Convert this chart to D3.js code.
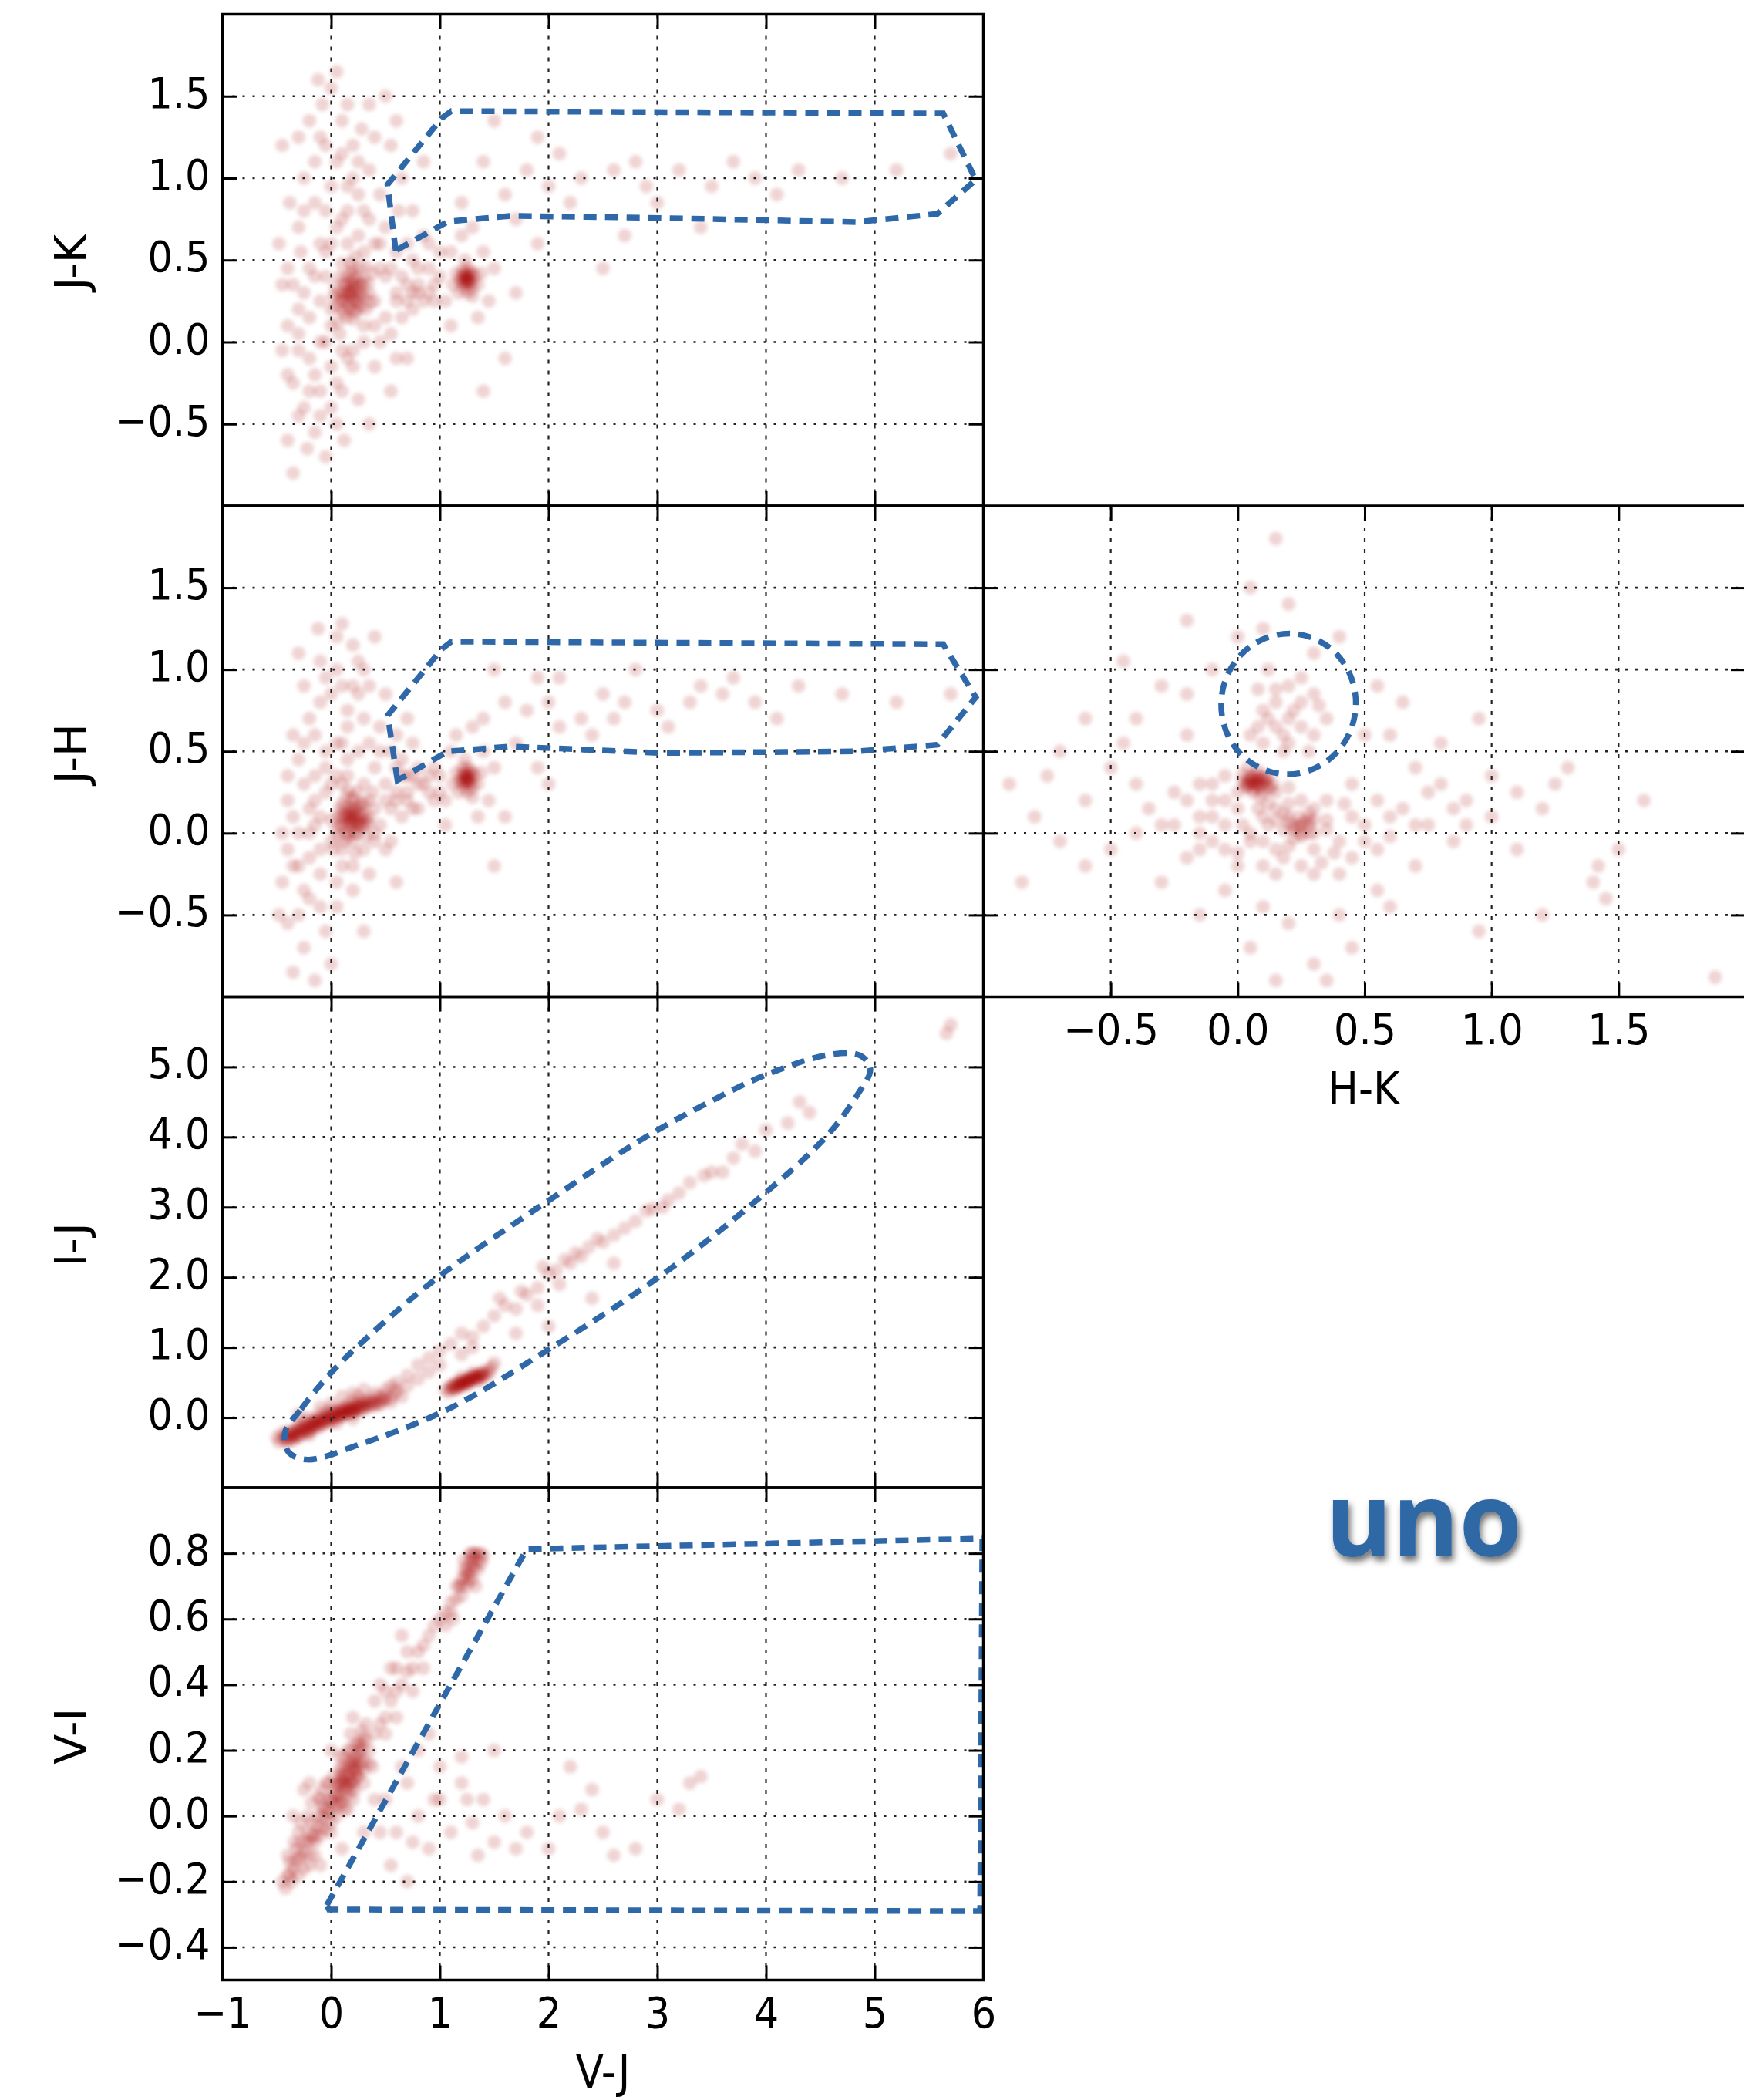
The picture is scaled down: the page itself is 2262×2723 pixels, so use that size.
<!DOCTYPE html>
<html><head><meta charset="utf-8">
<script src="https://cdn.jsdelivr.net/npm/d3@7"></script>
<style>body{margin:0;background:#fff}svg{display:block}</style>
</head><body>
<script>
// ---------------- DATA ----------------
const vjTicks = [-1, 0, 1, 2, 3, 4, 5, 6];
const jkTicks = [-0.5, 0, 0.5, 1, 1.5];
const jhTicks = [-0.5, 0, 0.5, 1, 1.5];
const ijTicks = [0, 1, 2, 3, 4, 5];
const viTicks = [-0.4, -0.2, 0, 0.2, 0.4, 0.6, 0.8];
const hkTicks = [-0.5, 0, 0.5, 1, 1.5];

// J-K vs V-J
const jkVsVj = [
[0.10,0.30],[0.15,0.25],[0.20,0.35],[0.25,0.28],[0.18,0.42],[0.05,0.22],[0.30,0.38],[0.22,0.18],[0.12,0.36],[0.28,0.22],[0.16,0.30],[0.08,0.40],[0.35,0.30],[0.20,0.26],[0.14,0.15],[0.26,0.45],[0.02,0.28],[0.32,0.20],[0.24,0.32],[0.18,0.20],[0.10,0.48],[0.38,0.42],[0.06,0.12],[0.22,0.52],[0.30,0.10],
[0.12,0.28],[0.18,0.32],[0.22,0.24],[0.26,0.36],[0.16,0.22],[0.20,0.30],[0.14,0.34],[0.24,0.40],[0.08,0.26],[0.28,0.30],[0.20,0.14],[0.10,0.20],[0.32,0.46],[0.04,0.34],[0.18,0.48],[0.36,0.24],
[0.15,0.30],[0.20,0.38],[0.25,0.25],[0.10,0.25],[0.18,0.28],[0.22,0.34],[0.14,0.40],[0.28,0.35],[0.06,0.30],[0.24,0.20],[0.12,0.18],[0.30,0.28],[0.20,0.44],[0.16,0.36],[0.00,0.20],[0.34,0.36],
[-0.30,0.05],[-0.20,-0.10],[-0.35,-0.25],[-0.25,-0.40],[-0.15,-0.55],[-0.40,-0.60],[-0.10,-0.30],[0.00,-0.15],[-0.05,0.00],[-0.30,0.20],[-0.45,0.35],[-0.20,0.45],[-0.10,0.60],[-0.30,0.70],[-0.15,0.85],[0.00,0.95],[-0.25,1.00],[0.05,1.10],[-0.10,1.25],[0.10,1.35],[0.00,1.55],[0.05,1.65],[-0.20,1.35],[0.20,1.20],[0.15,0.95],[0.30,0.80],[0.25,0.65],[0.40,0.60],[0.45,0.90],[0.35,1.05],[0.50,0.70],[0.55,0.45],[0.60,0.25],[0.50,0.15],[0.45,0.00],[0.40,-0.15],[0.20,-0.05],[0.10,-0.30],[0.25,-0.35],[0.05,-0.50],[-0.05,-0.70],[-0.35,-0.80],[-0.40,-0.20],[-0.45,-0.05],[-0.28,0.55],[-0.38,0.85],[0.60,0.55],[0.70,0.35],[0.65,0.15],[0.75,0.50],[0.80,0.30],[0.85,0.65],[0.90,0.45],[0.95,0.35],[1.00,0.55],[0.55,1.20],[0.35,1.45],[0.65,1.00],[0.75,0.80],[-0.20,0.15],[-0.10,0.25],[-0.30,-0.05],[0.00,0.60],[0.10,0.75],[0.08,0.05],[-0.05,0.40],[0.30,0.55],[0.40,0.25],[-0.15,-0.20],[0.15,-0.10],[-0.40,0.10],[0.00,-0.40],[-0.22,-0.65],[0.45,0.45],[0.15,0.60],[-0.05,0.80],[0.20,1.00],[0.28,1.30],[-0.08,1.45],[0.12,-0.60],[0.35,-0.50],[0.55,-0.30],[0.70,-0.10],[0.50,1.50],[0.85,1.10],[0.60,1.35],[-0.48,0.60],[-0.45,1.20],
[-0.25,0.30],[-0.15,0.40],[-0.05,0.55],[0.05,0.70],[0.15,0.80],[0.25,0.90],[0.35,0.75],[0.45,0.60],[0.50,0.40],[0.40,0.10],[0.30,0.00],[0.20,-0.15],[0.10,-0.05],[0.00,0.10],[-0.10,0.00],[-0.20,-0.30],[-0.30,-0.45],[-0.10,-0.45],[0.05,-0.25],[-0.35,0.35],[-0.25,0.80],[-0.15,1.10],[-0.05,1.20],[0.10,1.15],[0.25,1.10],[0.15,1.45],[-0.12,1.60],[0.40,1.25],[-0.30,1.25],[-0.40,0.45],[0.62,0.80],[0.70,0.60],[0.80,0.45],[0.90,0.60],[0.85,0.25],[0.75,0.20],[0.55,0.05],[0.60,-0.10],
[0.60,0.30],[0.70,0.25],[0.80,0.35],[0.90,0.30],[1.00,0.40],[0.65,0.40],[0.75,0.30],[0.95,0.25],
[1.25,0.38],[1.20,0.40],[1.30,0.36],[1.22,0.33],[1.28,0.43],[1.18,0.38],[1.32,0.40],[1.25,0.30],[1.26,0.45],[1.15,0.42],[1.35,0.35],[1.24,0.36],[1.27,0.39],[1.21,0.44],[1.29,0.32],[1.12,0.35],[1.38,0.42],[1.23,0.50],[1.30,0.28],[1.17,0.30],[1.26,0.40],[1.22,0.37],
[1.24,0.38],[1.26,0.36],[1.25,0.41],[1.23,0.40],[1.28,0.37],[1.20,0.36],[1.30,0.42],[1.22,0.42],
[1.05,0.25],[1.10,0.55],[1.40,0.55],[1.45,0.25],[1.20,0.65],[1.30,0.70],[1.35,0.15],[1.10,0.10],[1.20,0.85],[1.50,0.45],
[1.6,0.90],[1.8,1.05],[2.0,0.95],[2.3,1.00],[2.6,1.05],[2.9,0.95],[3.2,1.05],[3.5,0.95],[3.9,1.00],[4.3,1.05],[1.5,1.35],[1.7,0.75],[2.2,0.85],[1.9,1.25],[1.4,1.10],[5.70,1.15],[2.5,0.45],[1.6,-0.10],[1.4,-0.30],[1.7,0.30],
[2.1,1.15],[2.8,1.10],[3.0,0.85],[3.7,1.10],[4.1,0.90],[4.7,1.00],[5.2,1.05],[1.9,0.60],[2.7,0.65],[3.4,0.70]
];

// J-H vs V-J
const jhVsVj = [
[0.20,0.08],[0.15,0.05],[0.25,0.12],[0.10,0.10],[0.30,0.05],[0.18,0.15],[0.22,0.00],[0.05,0.02],[0.28,0.18],[0.12,-0.05],[0.35,0.10],[0.20,0.20],[0.08,0.15],[0.16,-0.02],[0.26,0.06],[0.00,0.08],[0.40,0.15],[0.14,0.22],[0.32,-0.02],[0.24,0.25],[0.18,0.10],[0.10,0.30],[0.02,-0.10],[0.38,0.25],[0.22,-0.12],
[0.18,0.06],[0.22,0.10],[0.16,0.12],[0.24,0.04],[0.20,0.14],[0.12,0.08],[0.28,0.10],[0.14,0.00],[0.26,0.16],[0.08,0.05],[0.30,0.18],[0.10,0.18],[0.20,-0.05],[0.32,0.08],[0.06,-0.02],[0.16,0.26],
[0.18,0.08],[0.22,0.06],[0.20,0.12],[0.15,0.10],[0.25,0.08],[0.12,0.12],[0.28,0.04],[0.18,0.02],[0.22,0.16],[0.10,0.04],[0.30,0.12],[0.14,0.16],[0.24,0.00],[0.06,0.10],[0.34,0.06],[0.20,0.22],
[-0.30,0.00],[-0.20,0.15],[-0.35,-0.20],[-0.25,-0.35],[-0.10,-0.25],[-0.40,0.20],[-0.15,0.35],[-0.30,0.45],[-0.05,0.50],[-0.20,0.70],[0.00,0.85],[-0.10,1.05],[0.05,1.20],[0.10,1.28],[0.20,0.90],[0.30,0.70],[0.25,0.50],[0.40,0.40],[0.50,0.30],[0.55,0.15],[0.60,0.25],[0.45,0.05],[0.50,-0.10],[0.35,-0.25],[0.20,-0.35],[0.05,-0.45],[-0.05,-0.60],[-0.25,-0.70],[-0.40,-0.55],[-0.35,-0.85],[-0.15,-0.90],[0.00,-0.80],[-0.45,-0.30],[-0.45,0.00],[0.70,0.20],[0.75,0.35],[0.80,0.15],[0.85,0.30],[0.90,0.25],[0.95,0.40],[0.65,0.45],[0.60,0.60],[0.45,0.65],[0.35,0.90],[0.15,0.65],[-0.05,0.25],[-0.15,0.05],[0.05,0.35],[0.30,0.30],[0.10,-0.20],[0.40,-0.05],[-0.25,0.55],[0.15,0.45],[-0.10,0.80],[0.25,1.05],[0.50,0.85],[0.70,0.70],[0.55,0.50],[-0.35,0.60],[-0.48,-0.50],[0.30,-0.60],[0.60,-0.30],[0.75,0.55],[0.05,1.00],[-0.30,1.10],[0.40,1.20],[-0.20,-0.15],[0.10,0.55],[0.35,0.20],[-0.10,0.10],
[-0.25,0.30],[-0.15,0.20],[-0.05,0.40],[0.05,0.55],[0.15,0.75],[0.25,0.85],[0.35,0.55],[0.45,0.50],[0.50,0.20],[0.40,0.00],[0.30,-0.10],[0.20,-0.20],[0.10,-0.10],[0.00,-0.05],[-0.10,-0.10],[-0.20,-0.40],[-0.30,-0.50],[-0.10,-0.45],[0.05,-0.30],[-0.35,0.10],[-0.25,0.90],[-0.15,0.60],[-0.05,0.95],[0.10,0.90],[0.20,1.15],[-0.12,1.25],[0.30,1.00],[-0.40,0.35],[0.60,0.40],[0.70,0.35],[0.80,0.40],[0.65,0.10],[0.55,-0.05],[-0.30,-0.20],[-0.40,-0.10],[0.00,0.30],[0.15,0.35],[-0.20,0.00],
[0.60,0.20],[0.70,0.25],[0.80,0.30],[0.90,0.35],[1.00,0.25],[0.65,0.35],[0.75,0.15],[0.95,0.20],
[1.25,0.33],[1.20,0.35],[1.30,0.30],[1.22,0.28],[1.28,0.38],[1.18,0.32],[1.32,0.35],[1.25,0.25],[1.26,0.40],[1.15,0.37],[1.35,0.30],[1.24,0.31],[1.27,0.34],[1.21,0.40],[1.29,0.27],[1.12,0.30],[1.38,0.37],[1.23,0.45],[1.30,0.22],[1.17,0.25],[1.26,0.35],[1.22,0.32],
[1.24,0.33],[1.26,0.31],[1.25,0.36],[1.23,0.35],[1.28,0.32],[1.20,0.31],[1.30,0.37],[1.22,0.37],
[1.05,0.20],[1.10,0.50],[1.40,0.50],[1.45,0.20],[1.15,0.60],[1.30,0.65],[1.35,0.10],[1.05,0.05],[1.50,0.40],[1.00,0.35],
[1.6,0.80],[1.8,0.75],[2.0,0.80],[2.1,0.65],[2.3,0.70],[2.5,0.85],[2.7,0.80],[3.0,0.75],[3.3,0.80],[3.6,0.85],[3.9,0.80],[4.3,0.90],[1.5,1.00],[1.9,0.95],[2.4,0.60],[1.7,0.55],[5.70,0.85],[1.6,0.10],[2.0,0.30],[1.4,0.70],[1.5,-0.20],
[2.1,0.95],[2.8,1.00],[3.1,0.65],[3.7,0.95],[4.1,0.70],[4.7,0.85],[5.2,0.80],[1.9,0.40],[2.6,0.70],[3.4,0.90]
];

// I-J vs V-J
const ijVsVj = [
[-0.45,-0.30],[-0.42,-0.25],[-0.40,-0.28],[-0.38,-0.22],[-0.35,-0.25],[-0.33,-0.18],[-0.30,-0.22],[-0.28,-0.15],[-0.25,-0.20],[-0.22,-0.12],[-0.20,-0.16],[-0.18,-0.08],[-0.15,-0.13],[-0.12,-0.05],[-0.10,-0.10],[-0.08,-0.02],[-0.05,-0.06],[-0.02,0.02],[0.00,-0.03],[0.03,0.05],[0.05,0.00],[0.08,0.08],[0.10,0.02],[0.12,0.10],[0.15,0.05],[0.18,0.12],[0.20,0.07],[0.22,0.15],[0.25,0.10],[0.28,0.18],[0.30,0.12],[0.33,0.20],[0.35,0.15],[0.38,0.22],[0.40,0.17],[0.45,0.22],[0.50,0.25],[0.55,0.28],[-0.30,-0.10],[-0.20,-0.25],[-0.05,0.08],[0.05,-0.08],[0.15,0.18],[0.20,-0.02],[0.30,0.25],[0.10,0.15],[-0.15,-0.02],[-0.35,-0.32],
[-0.45,-0.22],[-0.40,-0.35],[-0.38,-0.30],[-0.35,-0.20],[-0.32,-0.28],[-0.30,-0.16],[-0.28,-0.25],[-0.25,-0.12],[-0.22,-0.22],[-0.20,-0.08],[-0.18,-0.18],[-0.15,-0.05],[-0.12,-0.15],[-0.10,-0.02],[-0.08,-0.10],[-0.05,0.02],[-0.02,-0.08],[0.00,0.06],[0.02,-0.04],[0.05,0.10],[0.08,0.00],[0.10,0.12],[0.12,0.04],[0.15,0.14],[0.18,0.06],[0.20,0.18],[0.22,0.08],[0.25,0.20],[0.28,0.12],[0.30,0.22],[0.35,0.25],[0.40,0.28],[0.45,0.18],[0.50,0.32],[0.55,0.22],[0.60,0.40],[-0.48,-0.35],[-0.50,-0.28],
[-0.42,-0.32],[-0.40,-0.20],[-0.36,-0.27],[-0.33,-0.23],[-0.30,-0.28],[-0.27,-0.18],[-0.24,-0.16],[-0.21,-0.19],[-0.18,-0.12],[-0.16,-0.09],[-0.13,-0.10],[-0.11,-0.07],[-0.07,-0.04],[-0.04,-0.02],[-0.01,0.00],[0.01,0.03],[0.04,0.02],[0.07,0.05],[0.09,0.06],[0.11,0.08],[0.14,0.09],[0.17,0.10],[0.19,0.13],[0.21,0.11],[0.24,0.15],[0.27,0.15],[0.32,0.17],[0.37,0.19],[0.42,0.21],[0.48,0.26],[0.00,0.12],[-0.10,0.05],[0.20,0.25],[-0.25,-0.05],
[-0.30,0.05],[-0.10,0.15],[0.10,0.30],[0.30,0.40],[0.20,0.35],[0.00,0.20],[-0.20,0.00],
[0.40,0.35],[0.50,0.40],[0.60,0.35],[0.60,0.50],[0.70,0.45],[0.70,0.60],[0.80,0.55],[0.80,0.75],[0.90,0.65],[0.90,0.85],[0.55,0.45],[0.65,0.30],[0.25,0.30],[0.45,0.30],[1.00,0.95],[1.00,0.75],
[1.05,0.40],[1.10,0.42],[1.12,0.47],[1.15,0.45],[1.18,0.50],[1.20,0.48],[1.22,0.53],[1.25,0.52],[1.28,0.57],[1.30,0.55],[1.32,0.60],[1.35,0.58],[1.38,0.63],[1.40,0.62],[1.45,0.68],[1.48,0.72],[1.08,0.36],[1.15,0.40],[1.25,0.46],[1.35,0.52],[1.20,0.58],[1.30,0.64],[1.18,0.44],[1.27,0.50],[1.42,0.58],[1.50,0.78],
[1.10,0.45],[1.15,0.50],[1.20,0.52],[1.25,0.55],[1.30,0.58],[1.35,0.62],[1.40,0.66],[1.22,0.49],[1.28,0.54],[1.33,0.56],[1.18,0.47],[1.38,0.60],[1.12,0.40],[1.45,0.63],
[1.15,0.43],[1.22,0.50],[1.28,0.52],[1.32,0.58],[1.38,0.58],[1.25,0.50],[1.20,0.45],[1.35,0.55],
[1.20,1.20],[1.10,1.05],[1.30,1.00],[1.40,1.30],[1.50,1.45],[1.60,1.60],[1.70,1.55],[1.80,1.75],[1.90,1.85],[2.00,2.05],[2.07,2.10],[2.10,1.90],[2.20,2.20],[2.37,2.43],[2.30,2.30],[2.50,2.50],[2.60,2.60],[2.80,2.80],[2.96,2.98],[3.10,3.10],[3.20,3.20],[3.43,3.45],[3.60,3.50],[3.78,3.90],[4.00,4.10],[4.31,4.50],[2.40,1.70],[2.00,1.30],[1.70,1.20],[5.66,5.48],[5.70,5.60],
[1.30,1.15],[1.55,1.70],[1.75,1.80],[1.95,2.15],[2.15,2.25],[2.25,2.35],[2.45,2.55],[2.70,2.70],[2.90,2.95],[3.05,3.00],[3.30,3.35],[3.50,3.50],[3.70,3.70],[3.90,3.80],[4.20,4.20],[4.40,4.35],[1.90,1.60],[2.60,2.20],[1.20,0.90]
];

// V-I vs V-J
const viVsVj = [
[-0.45,-0.20],[-0.40,-0.18],[-0.38,-0.14],[-0.35,-0.16],[-0.32,-0.10],[-0.30,-0.13],[-0.28,-0.08],[-0.25,-0.11],[-0.22,-0.05],[-0.20,-0.08],[-0.18,-0.02],[-0.15,-0.06],[-0.12,0.00],[-0.10,-0.04],[-0.08,0.03],[-0.05,-0.01],[-0.02,0.05],[0.00,0.01],[0.02,0.07],[0.05,0.03],[0.08,0.10],[0.10,0.06],[0.12,0.13],[0.15,0.09],[0.18,0.15],[0.20,0.11],[0.22,0.18],[0.25,0.14],[0.28,0.20],[0.30,0.17],[0.32,0.23],[0.35,0.20],[0.15,0.20],[0.10,0.15],[0.20,0.05],[0.25,0.22],[0.05,0.10],[0.00,-0.05],[-0.10,0.05],[-0.30,-0.05],[-0.20,-0.15],[0.30,0.10],[0.18,0.25],[0.12,0.02],[0.40,0.25],[0.38,0.15],[0.08,0.18],[-0.05,0.10],[-0.15,-0.12],[0.22,0.08],
[-0.42,-0.22],[-0.40,-0.12],[-0.36,-0.20],[-0.34,-0.08],[-0.30,-0.18],[-0.28,-0.02],[-0.25,-0.16],[-0.22,0.00],[-0.20,-0.12],[-0.18,0.04],[-0.15,-0.08],[-0.12,0.06],[-0.10,-0.06],[-0.08,0.08],[-0.05,-0.04],[-0.02,0.10],[0.00,-0.02],[0.02,0.12],[0.05,0.00],[0.08,0.14],[0.10,0.04],[0.12,0.18],[0.15,0.06],[0.18,0.20],[0.20,0.10],[0.22,0.22],[0.25,0.12],[0.28,0.26],[0.30,0.14],[0.32,0.28],[0.35,0.16],[0.15,0.12],[0.20,0.16],[0.10,0.10],[0.25,0.18],[0.05,0.06],[0.18,0.10],[0.12,0.08],[0.22,0.14],[0.08,0.04],[0.28,0.16],
[-0.38,-0.18],[-0.33,-0.14],[-0.28,-0.12],[-0.23,-0.08],[-0.18,-0.06],[-0.13,-0.03],[-0.08,0.00],[-0.03,0.02],[0.02,0.04],[0.07,0.07],[0.11,0.11],[0.14,0.14],[0.17,0.12],[0.19,0.17],[0.21,0.14],[0.23,0.16],[0.26,0.20],[0.16,0.16],[0.13,0.10],[0.09,0.12],[0.24,0.12],[0.18,0.08],[0.27,0.22],[0.06,0.09],[0.00,0.05],[-0.06,0.02],[0.15,0.02],[0.30,0.24],
[-0.35,0.00],[-0.20,0.10],[0.00,0.20],[0.20,0.30],[0.40,0.05],[0.30,-0.05],[0.10,-0.10],[-0.10,-0.15],[0.45,0.40],[0.55,0.45],[0.65,0.55],[0.60,0.45],[0.50,0.25],
[0.45,0.28],[0.50,0.30],[0.55,0.35],[0.60,0.38],[0.65,0.40],[0.70,0.44],[0.75,0.45],[0.80,0.50],[0.85,0.52],[0.90,0.55],[0.95,0.58],[1.00,0.60],[1.05,0.62],[0.60,0.30],[0.70,0.50],[0.50,0.38],[0.85,0.45],[1.10,0.65],[0.40,0.35],[0.75,0.38],
[1.10,0.62],[1.15,0.66],[1.18,0.70],[1.20,0.72],[1.22,0.75],[1.25,0.74],[1.28,0.78],[1.30,0.76],[1.32,0.80],[1.35,0.78],[1.38,0.80],[1.25,0.70],[1.30,0.72],[1.35,0.75],[1.20,0.67],[1.28,0.80],[1.40,0.79],[1.15,0.70],[1.33,0.70],[1.22,0.78],
[1.25,0.76],[1.28,0.74],[1.30,0.78],[1.32,0.76],[1.27,0.72],[1.35,0.80],[1.23,0.73],[1.30,0.80],[1.20,0.70],[1.38,0.77],[1.12,0.60],[1.05,0.58],
[0.50,0.05],[0.60,-0.05],[0.70,0.10],[0.80,0.00],[0.90,-0.10],[1.00,0.05],[1.10,-0.05],[1.20,0.10],[1.30,-0.02],[1.40,0.05],[1.50,-0.08],[1.60,0.00],[1.80,-0.05],[2.00,-0.10],[2.10,0.00],[2.30,0.02],[2.50,-0.05],[2.80,-0.10],[3.00,0.05],[3.30,0.10],[3.40,0.12],[0.55,-0.15],[0.70,-0.20],[1.00,0.15],[1.20,0.18],[0.90,0.25],[1.50,0.20],[2.20,0.15],[0.45,-0.05],[0.80,0.20],[-0.25,0.08],
[0.65,0.15],[0.95,0.05],[1.25,0.05],[1.70,-0.10],[2.40,0.08],[2.60,-0.12],[3.20,0.02],[0.75,-0.08],[1.35,-0.12]
];

// J-H vs H-K
const jhVsHk = [
[0.05,0.33],[0.08,0.30],[0.03,0.28],[0.10,0.35],[0.06,0.25],[0.12,0.28],[0.02,0.36],[0.09,0.22],[0.15,0.25],[0.04,0.40],[0.07,0.30],[0.11,0.32],
[0.05,0.30],[0.06,0.34],[0.08,0.28],[0.04,0.32],[0.09,0.33],[0.07,0.36],[0.03,0.30],[0.10,0.30],[0.06,0.27],[0.12,0.33],[0.02,0.32],[0.08,0.38],[0.14,0.30],[0.10,0.25],
[0.06,0.31],[0.08,0.33],[0.05,0.35],[0.09,0.29],[0.04,0.29],[0.11,0.34],[0.07,0.32],[0.13,0.27],
[0.24,0.04],[0.26,0.07],[0.22,0.02],[0.28,0.08],[0.25,0.00],[0.20,0.06],
[0.15,0.15],[0.20,0.10],[0.25,0.05],[0.28,0.00],[0.22,-0.03],[0.30,0.08],[0.35,0.02],[0.18,0.02],[0.10,0.10],[0.00,0.15],[-0.05,0.05],[-0.10,0.20],[-0.15,0.10],[0.05,-0.05],[0.15,-0.10],[0.30,-0.10],[0.40,-0.05],[0.45,0.10],[0.35,0.20],[0.25,0.20],[0.20,0.28],[-0.10,-0.05],[-0.20,-0.15],[0.00,-0.20],[0.10,-0.20],[0.25,-0.20],[0.40,-0.25],[0.50,0.05],[0.55,0.20],[0.60,0.10],[0.45,0.30],[-0.05,0.35],[-0.15,0.30],[-0.25,0.25],[-0.30,0.05],[0.12,0.05],[0.28,0.12],[0.02,0.05],[0.18,-0.15],[0.33,-0.18],
[0.00,0.25],[-0.05,0.20],[-0.10,0.10],[-0.15,0.00],[-0.05,-0.10],[0.05,0.00],[0.10,-0.05],[0.20,-0.08],[0.25,-0.02],[0.30,0.00],[0.35,0.08],[0.38,-0.12],[0.45,-0.15],[0.50,-0.05],[0.42,0.18],[0.30,0.15],[0.20,0.18],[0.15,0.08],[0.08,0.15],[0.22,0.05],[0.28,0.05],[0.24,0.10],[0.18,0.12],[0.12,0.18],[-0.20,0.20],[-0.25,0.05],[-0.15,-0.10],[0.00,-0.12],[0.30,-0.25],[0.15,-0.25],[0.55,-0.10],[0.60,-0.02],[0.65,0.15],[0.70,0.05],[0.75,0.25],[0.85,0.15],[0.90,0.05],[1.00,0.10],[-0.35,0.15],[-0.40,0.30],[-0.10,0.30],
[0.10,0.55],[0.15,0.65],[0.20,0.70],[0.25,0.80],[0.20,0.90],[0.15,0.80],[0.10,0.75],[0.30,0.60],[0.25,0.95],[0.12,1.00],[0.30,0.85],[0.18,0.50],[0.05,0.60],[0.28,0.50],[0.08,0.88],[0.35,0.70],
[0.18,0.60],[0.22,0.75],[0.12,0.70],[0.25,0.65],[0.15,0.88],[0.32,0.78],[0.20,0.55],[0.08,0.65],
[-0.50,0.40],[-0.60,0.20],[-0.70,0.50],[-0.80,0.10],[-0.90,0.30],[-0.40,0.00],[-0.50,-0.10],[-0.30,-0.30],[-0.60,0.70],[-0.40,0.70],[-0.20,0.60],[-0.30,0.90],[-0.10,1.00],[0.00,1.20],[-0.20,1.30],[0.05,1.50],[0.20,1.40],[0.15,1.80],[0.40,1.20],[0.55,0.90],[0.60,0.60],[0.70,0.40],[0.80,0.30],[0.90,0.20],[1.00,0.35],[1.10,0.25],[1.20,0.15],[0.75,0.05],[0.85,-0.05],[0.70,-0.20],[0.55,-0.35],[0.40,-0.50],[0.20,-0.55],[0.30,-0.80],[0.35,-0.90],[0.05,-0.70],[-0.15,-0.50],[1.40,-0.30],[1.45,-0.40],[1.42,-0.20],[1.88,-0.88],[1.20,-0.50],[0.95,-0.60],[-0.85,-0.30],[1.30,0.40],[1.60,0.20],[-0.70,-0.05],[0.65,0.80],[0.95,0.70],[-0.45,1.05],
[-0.60,-0.20],[-0.75,0.35],[-0.45,0.55],[-0.20,0.85],[0.10,1.25],[0.30,1.10],[0.50,0.60],[0.80,0.55],[1.10,-0.10],[0.60,-0.45],[0.45,-0.70],[0.10,-0.45],[-0.05,-0.35],[0.15,-0.90],[1.50,-0.10],[1.25,0.30]
];

// dashed selection regions (data coordinates)
const selJK = [[0.594,0.558],[0.518,0.96],[1.017,1.366],[1.106,1.409],[5.63,1.395],[5.93,0.99],[5.575,0.782],[4.84,0.732],[3.02,0.757],[1.66,0.77],[1.076,0.736]];
const selJH = [[0.61,0.323],[0.52,0.72],[1.017,1.125],[1.106,1.171],[5.63,1.155],[5.93,0.83],[5.575,0.54],[4.84,0.50],[3.02,0.49],[1.66,0.53],[1.076,0.50]];
const selIJ = [[-0.424,-0.21],[-0.277,0.12],[0.018,0.67],[0.488,1.36],[1.017,2.04],[1.958,3.05],[2.84,3.95],[3.43,4.46],[4.02,4.90],[4.60,5.18],[4.87,5.16],[4.96,4.97],[4.84,4.60],[4.55,4.0],[3.90,3.08],[3.02,2.01],[2.02,0.99],[1.076,0.12],[0.25,-0.39],[-0.218,-0.60],[-0.394,-0.49]];
const selVI = [[-0.04,-0.272],[1.80,0.813],[5.99,0.845],[5.97,-0.29],[-0.02,-0.285]];
const selHK = [0.2, 0.79, 0.265, 0.43]; // centre x, centre y, half-width, half-height

// ---------------- LAYOUT ----------------
const W = 2262, H = 2723;
const colL = [288.5, 1275.5], colR = [1276, 2264];
const rows = [[18.5, 656], [656, 1292.5], [1292.5, 1929], [1929, 2567.5]];
const PT = "#a80000", BLUE = "#2f68a8";
const FONT = "'DejaVu Sans', sans-serif";
const SX = 0.91;

const svg = d3.select("body").append("svg").attr("width", W).attr("height", H)
  .attr("viewBox", `0 0 ${W} ${H}`);
svg.append("rect").attr("width", W).attr("height", H).attr("fill", "#fff");
const defs = svg.append("defs");
defs.append("filter").attr("id", "soft").attr("x", "-5%").attr("y", "-5%").attr("width", "110%").attr("height", "110%")
  .append("feGaussianBlur").attr("stdDeviation", 2.4);
const sh = defs.append("filter").attr("id", "shadow").attr("x", "-20%").attr("y", "-20%").attr("width", "140%").attr("height", "160%");
sh.append("feDropShadow").attr("dx", 3).attr("dy", 6).attr("stdDeviation", 4).attr("flood-color", "#000").attr("flood-opacity", 0.55);

const panels = [
  {id:"p1", xd:[-1,6], xr:colL, yd:[-1,2], yr:rows[0], data:jkVsVj, xt:vjTicks, yt:jkTicks, yfmt:".1f", ylab:"J-K", showX:false, showY:true, sel:selJK, kind:"poly"},
  {id:"p2", xd:[-1,6], xr:colL, yd:[-1,2], yr:rows[1], data:jhVsVj, xt:vjTicks, yt:jhTicks, yfmt:".1f", ylab:"J-H", showX:false, showY:true, sel:selJH, kind:"poly"},
  {id:"p5", xd:[-1,2], xr:colR, yd:[-1,2], yr:rows[1], data:jhVsHk, xt:hkTicks, yt:jhTicks, xfmt:".1f", xlab:"H-K", showX:true, showY:false, sel:selHK, kind:"ellipse"},
  {id:"p3", xd:[-1,6], xr:colL, yd:[-1,6], yr:rows[2], data:ijVsVj, xt:vjTicks, yt:ijTicks, yfmt:".1f", ylab:"I-J", showX:false, showY:true, sel:selIJ, kind:"smooth"},
  {id:"p4", xd:[-1,6], xr:colL, yd:[-0.5,1], yr:rows[3], data:viVsVj, xt:vjTicks, yt:viTicks, yfmt:".1f", xfmt:"d", ylab:"V-I", xlab:"V-J", showX:true, showY:true, sel:selVI, kind:"poly"}
];

panels.forEach(p => {
  const x = d3.scaleLinear().domain(p.xd).range(p.xr);
  const y = d3.scaleLinear().domain(p.yd).range([p.yr[1], p.yr[0]]);
  const [x0, x1] = p.xr, [y0, y1] = p.yr;
  const g = svg.append("g");
  defs.append("clipPath").attr("id", "clip-" + p.id).append("rect")
    .attr("x", x0).attr("y", y0).attr("width", x1 - x0).attr("height", y1 - y0);
  const inner = g.append("g").attr("clip-path", `url(#clip-${p.id})`);

  // points
  inner.append("g").attr("filter", "url(#soft)")
    .selectAll("circle").data(p.data).join("circle")
    .attr("cx", d => x(d[0])).attr("cy", d => y(d[1])).attr("r", 9)
    .attr("fill", PT).attr("fill-opacity", 0.17);

  // grid
  const gx = p.xt.filter(v => v > p.xd[0] && v < p.xd[1]);
  inner.append("g").selectAll("line").data(gx).join("line")
    .attr("x1", d => x(d)).attr("x2", d => x(d)).attr("y1", y0).attr("y2", y1)
    .attr("stroke", "#222").attr("stroke-width", 2.2).attr("stroke-dasharray", "5,9");
  inner.append("g").selectAll("line").data(p.yt).join("line")
    .attr("y1", d => y(d)).attr("y2", d => y(d)).attr("x1", x0).attr("x2", x1)
    .attr("stroke", "#222").attr("stroke-width", 2.6).attr("stroke-dasharray", "3,10");

  // selection
  const selG = inner.append("g").attr("fill", "none").attr("stroke", BLUE)
    .attr("stroke-width", 7.5).attr("stroke-dasharray", "17,11");
  if (p.kind === "poly") {
    selG.append("path").attr("d", d3.line().x(d => x(d[0])).y(d => y(d[1])).curve(d3.curveLinearClosed)(p.sel));
  } else if (p.kind === "smooth") {
    selG.append("path").attr("d", d3.line().x(d => x(d[0])).y(d => y(d[1])).curve(d3.curveCatmullRomClosed.alpha(0.5))(p.sel));
  } else {
    const [cx, cy, rx, ry] = p.sel;
    selG.append("ellipse").attr("cx", x(cx)).attr("cy", y(cy))
      .attr("rx", x(cx + rx) - x(cx)).attr("ry", y(cy) - y(cy + ry))
      .attr("transform", `rotate(8 ${x(cx)} ${y(cy)})`);
  }

  // axes (inward ticks on all sides)
  const TL = 19;
  const styleAx = a => { a.select(".domain").remove(); a.selectAll("line").attr("stroke", "#000").attr("stroke-width", 3); };
  const yfmt = p.yfmt ? d3.format(p.yfmt) : null;
  const xfmt = p.xfmt ? d3.format(p.xfmt) : null;

  const left = g.append("g").attr("transform", `translate(${x0},0)`)
    .call(d3.axisLeft(y).tickValues(p.yt).tickSizeInner(-TL).tickSizeOuter(0).tickPadding(16)
      .tickFormat(p.showY ? yfmt : () => ""));
  const right = g.append("g").attr("transform", `translate(${x1},0)`)
    .call(d3.axisRight(y).tickValues(p.yt).tickSizeInner(-TL).tickSizeOuter(0).tickFormat(() => ""));
  const top = g.append("g").attr("transform", `translate(0,${y0})`)
    .call(d3.axisTop(x).tickValues(p.xt).tickSizeInner(-TL).tickSizeOuter(0).tickFormat(() => ""));
  const bottom = g.append("g").attr("transform", `translate(0,${y1})`)
    .call(d3.axisBottom(x).tickValues(p.xt).tickSizeInner(-TL).tickSizeOuter(0)
      .tickFormat(p.showX ? xfmt : () => ""));
  [left, right, top, bottom].forEach(styleAx);
  [left, right, top, bottom].forEach(a => a.selectAll("text").attr("font-family", FONT).attr("font-size", 56).attr("fill", "#000"));
  left.selectAll("text").attr("x", -16 / SX).attr("dy", "0.26em").attr("transform", `scale(${SX},1)`);
  bottom.selectAll("text").attr("y", 61.5).attr("dy", 0).attr("transform", `scale(${SX},1)`);

  // frame
  g.append("rect").attr("x", x0).attr("y", y0).attr("width", x1 - x0).attr("height", y1 - y0)
    .attr("fill", "none").attr("stroke", "#000").attr("stroke-width", 3.5);

  // labels
  if (p.ylab) {
    g.append("text").attr("transform", `translate(112,${(y0 + y1) / 2 + 3}) rotate(-90)`)
      .attr("text-anchor", "middle").attr("font-family", FONT).attr("font-size", 57).text(p.ylab);
  }
  if (p.xlab) {
    g.append("text").attr("transform", `translate(${(x0 + Math.min(x1, W)) / 2},${y1 + 139}) scale(${SX},1)`)
      .attr("text-anchor", "middle").attr("font-family", FONT).attr("font-size", 58).text(p.xlab);
  }
});

// "uno" annotation
svg.append("text").attr("x", 1719).attr("y", 2018)
  .attr("font-family", "'Open Sans', sans-serif").attr("font-weight", 700).attr("font-size", 132)
  .attr("fill", "#2f69a5").attr("filter", "url(#shadow)").text("uno");
</script>
</body></html>
